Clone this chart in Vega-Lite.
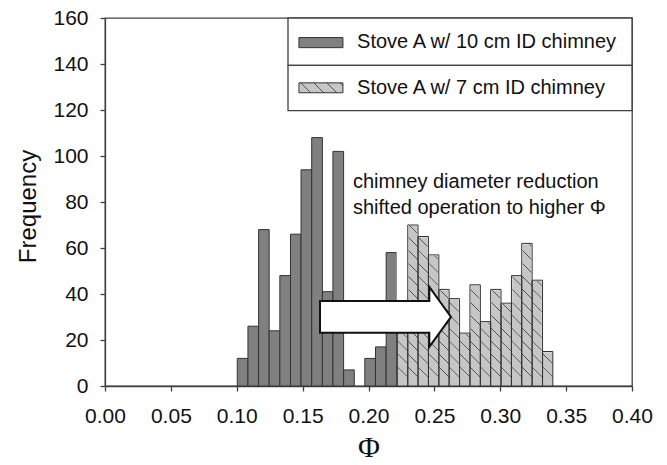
{
  "$schema": "https://vega.github.io/schema/vega-lite/v6.json",
  "width": 527,
  "height": 368,
  "autosize": {"type": "none"},
  "padding": {"left": 105, "top": 18, "right": 35, "bottom": 79},
  "background": "white",
  "config": {
    "view": {"stroke": "#404040", "strokeWidth": 1.3},
    "font": "Liberation Sans",
    "axis": {
      "domainColor": "#404040",
      "domainWidth": 1.3,
      "tickColor": "#404040",
      "tickWidth": 1.3,
      "tickSize": 5,
      "grid": false,
      "labelFont": "Liberation Sans",
      "labelFontSize": 21,
      "labelColor": "#111111",
      "labelFlush": false,
      "labelOverlap": false,
      "titleFontWeight": "normal",
      "titleColor": "#111111"
    }
  },
  "datasets": {
    "d10": [
      {"lo": 0.1004, "hi": 0.1085, "n": 12},
      {"lo": 0.1085, "hi": 0.1166, "n": 26},
      {"lo": 0.1166, "hi": 0.1246, "n": 68},
      {"lo": 0.1246, "hi": 0.1327, "n": 24},
      {"lo": 0.1327, "hi": 0.1408, "n": 48},
      {"lo": 0.1408, "hi": 0.1488, "n": 66},
      {"lo": 0.1488, "hi": 0.1569, "n": 94},
      {"lo": 0.1569, "hi": 0.1650, "n": 108},
      {"lo": 0.1650, "hi": 0.1730, "n": 41},
      {"lo": 0.1730, "hi": 0.1811, "n": 102},
      {"lo": 0.1811, "hi": 0.1892, "n": 7},
      {"lo": 0.1972, "hi": 0.2053, "n": 12},
      {"lo": 0.2053, "hi": 0.2134, "n": 17},
      {"lo": 0.2134, "hi": 0.2214, "n": 58}
    ],
    "d7": [
      {"lo": 0.2219, "hi": 0.2298, "n": 30},
      {"lo": 0.2298, "hi": 0.2376, "n": 70},
      {"lo": 0.2376, "hi": 0.2455, "n": 65},
      {"lo": 0.2455, "hi": 0.2534, "n": 57},
      {"lo": 0.2534, "hi": 0.2612, "n": 42},
      {"lo": 0.2612, "hi": 0.2691, "n": 38},
      {"lo": 0.2691, "hi": 0.2770, "n": 23},
      {"lo": 0.2770, "hi": 0.2849, "n": 44},
      {"lo": 0.2849, "hi": 0.2927, "n": 28},
      {"lo": 0.2927, "hi": 0.3006, "n": 42},
      {"lo": 0.3006, "hi": 0.3085, "n": 36},
      {"lo": 0.3085, "hi": 0.3163, "n": 48},
      {"lo": 0.3163, "hi": 0.3242, "n": 62},
      {"lo": 0.3242, "hi": 0.3321, "n": 46},
      {"lo": 0.3321, "hi": 0.3399, "n": 15}
    ]
  },
  "layer": [
    {
      "data": {"name": "d10"},
      "mark": {"type": "bar", "fill": "#808080", "stroke": "#333333", "strokeWidth": 1},
      "encoding": {
        "x": {
          "field": "lo",
          "type": "quantitative",
          "scale": {"domain": [0, 0.4], "nice": false, "zero": false},
          "axis": {
            "values": [0, 0.05, 0.1, 0.15, 0.2, 0.25, 0.3, 0.35, 0.4],
            "format": ".2f",
            "labelPadding": 14,
            "title": "Φ",
            "titleFont": "Liberation Serif",
            "titleFontSize": 30,
            "titleX": 263.5,
            "titleY": 61,
            "titleBaseline": "middle"
          }
        },
        "x2": {"field": "hi"},
        "y": {
          "field": "n",
          "type": "quantitative",
          "scale": {"domain": [0, 160], "nice": false},
          "axis": {
            "values": [0, 20, 40, 60, 80, 100, 120, 140, 160],
            "labelPadding": 12,
            "title": "Frequency",
            "titleFontSize": 24,
            "titleAngle": -90,
            "titleX": -77,
            "titleY": 188,
            "titleAlign": "center",
            "titleBaseline": "middle"
          }
        },
        "y2": {"datum": 0}
      }
    },
    {
      "data": {"name": "d7"},
      "mark": {
        "type": "bar",
        "strokeWidth": 0,
        "fill": {
          "gradient": "linear",
          "x1": 1, "y1": 0, "x2": 0.94376, "y2": 1,
          "stops": [
            {"offset": 0, "color": "#c6c6c6"},
            {"offset": 0.030, "color": "#c6c6c6"}, {"offset": 0.033, "color": "#505050"}, {"offset": 0.035, "color": "#505050"}, {"offset": 0.038, "color": "#c6c6c6"},
            {"offset": 0.100, "color": "#c6c6c6"}, {"offset": 0.103, "color": "#505050"}, {"offset": 0.105, "color": "#505050"}, {"offset": 0.108, "color": "#c6c6c6"},
            {"offset": 0.171, "color": "#c6c6c6"}, {"offset": 0.174, "color": "#505050"}, {"offset": 0.176, "color": "#505050"}, {"offset": 0.179, "color": "#c6c6c6"},
            {"offset": 0.241, "color": "#c6c6c6"}, {"offset": 0.244, "color": "#505050"}, {"offset": 0.246, "color": "#505050"}, {"offset": 0.249, "color": "#c6c6c6"},
            {"offset": 0.311, "color": "#c6c6c6"}, {"offset": 0.314, "color": "#505050"}, {"offset": 0.316, "color": "#505050"}, {"offset": 0.319, "color": "#c6c6c6"},
            {"offset": 0.382, "color": "#c6c6c6"}, {"offset": 0.385, "color": "#505050"}, {"offset": 0.387, "color": "#505050"}, {"offset": 0.390, "color": "#c6c6c6"},
            {"offset": 0.452, "color": "#c6c6c6"}, {"offset": 0.455, "color": "#505050"}, {"offset": 0.457, "color": "#505050"}, {"offset": 0.460, "color": "#c6c6c6"},
            {"offset": 0.522, "color": "#c6c6c6"}, {"offset": 0.525, "color": "#505050"}, {"offset": 0.527, "color": "#505050"}, {"offset": 0.530, "color": "#c6c6c6"},
            {"offset": 0.593, "color": "#c6c6c6"}, {"offset": 0.596, "color": "#505050"}, {"offset": 0.598, "color": "#505050"}, {"offset": 0.601, "color": "#c6c6c6"},
            {"offset": 0.663, "color": "#c6c6c6"}, {"offset": 0.666, "color": "#505050"}, {"offset": 0.668, "color": "#505050"}, {"offset": 0.671, "color": "#c6c6c6"},
            {"offset": 0.734, "color": "#c6c6c6"}, {"offset": 0.737, "color": "#505050"}, {"offset": 0.739, "color": "#505050"}, {"offset": 0.742, "color": "#c6c6c6"},
            {"offset": 0.804, "color": "#c6c6c6"}, {"offset": 0.807, "color": "#505050"}, {"offset": 0.809, "color": "#505050"}, {"offset": 0.812, "color": "#c6c6c6"},
            {"offset": 0.874, "color": "#c6c6c6"}, {"offset": 0.877, "color": "#505050"}, {"offset": 0.879, "color": "#505050"}, {"offset": 0.882, "color": "#c6c6c6"},
            {"offset": 0.945, "color": "#c6c6c6"}, {"offset": 0.948, "color": "#505050"}, {"offset": 0.950, "color": "#505050"}, {"offset": 0.953, "color": "#c6c6c6"},
            {"offset": 1, "color": "#c6c6c6"}
          ]
        }
      },
      "encoding": {
        "x": {"field": "lo", "type": "quantitative"},
        "x2": {"field": "hi"},
        "y": {"datum": 0},
        "y2": {"datum": 80}
      }
    },
    {
      "data": {"name": "d7"},
      "mark": {"type": "bar", "fill": "white", "stroke": "white", "strokeWidth": 1.5},
      "encoding": {
        "x": {"field": "lo", "type": "quantitative"},
        "x2": {"field": "hi"},
        "y": {"field": "n", "type": "quantitative"},
        "y2": {"datum": 80}
      }
    },
    {
      "data": {"name": "d7"},
      "mark": {"type": "bar", "fill": "transparent", "stroke": "#333333", "strokeWidth": 1},
      "encoding": {
        "x": {"field": "lo", "type": "quantitative"},
        "x2": {"field": "hi"},
        "y": {"field": "n", "type": "quantitative"},
        "y2": {"datum": 0}
      }
    },
    {
      "data": {"values": [{}]},
      "mark": {
        "type": "point",
        "shape": "M-1,-0.241L0.669,-0.241L0.669,-0.458L1,0L0.669,0.458L0.669,0.241L-1,0.241Z",
        "size": 17161,
        "filled": true,
        "fill": "white",
        "stroke": "#111111",
        "strokeWidth": 2,
        "opacity": 1
      },
      "encoding": {
        "x": {"datum": 0.2129},
        "y": {"datum": 30.05}
      }
    },
    {
      "data": {"values": [{}]},
      "mark": {
        "type": "text",
        "text": ["chimney diameter reduction", "shifted operation to higher Φ"],
        "align": "left",
        "baseline": "alphabetic",
        "fontSize": 20,
        "lineHeight": 26,
        "color": "#111111"
      },
      "encoding": {
        "x": {"datum": 0.1882},
        "y": {"datum": 85.9}
      }
    },
    {
      "data": {"values": [{}]},
      "mark": {"type": "rect", "fill": "white", "stroke": "#404040", "strokeWidth": 1.3},
      "encoding": {
        "x": {"datum": 0.1389},
        "x2": {"datum": 0.4},
        "y": {"datum": 160},
        "y2": {"datum": 139.4}
      }
    },
    {
      "data": {"values": [{}]},
      "mark": {"type": "rect", "fill": "white", "stroke": "#404040", "strokeWidth": 1.3},
      "encoding": {
        "x": {"datum": 0.1389},
        "x2": {"datum": 0.4},
        "y": {"datum": 139.4},
        "y2": {"datum": 119.7}
      }
    },
    {
      "data": {"values": [{}]},
      "mark": {"type": "rect", "fill": "#808080", "stroke": "#333333", "strokeWidth": 1},
      "encoding": {
        "x": {"datum": 0.1472},
        "x2": {"datum": 0.1806},
        "y": {"datum": 151.5},
        "y2": {"datum": 147.1}
      }
    },
    {
      "data": {"values": [{}]},
      "mark": {
        "type": "rect",
        "stroke": "#333333",
        "strokeWidth": 1,
        "fill": {
          "gradient": "linear",
          "x1": 1, "y1": 0, "x2": 0, "y2": 0.227,
          "stops": [
            {"offset": 0, "color": "#c6c6c6"},
            {"offset": 0.05, "color": "#c6c6c6"}, {"offset": 0.062, "color": "#505050"}, {"offset": 0.07, "color": "#505050"}, {"offset": 0.082, "color": "#c6c6c6"},
            {"offset": 0.33, "color": "#c6c6c6"}, {"offset": 0.342, "color": "#505050"}, {"offset": 0.35, "color": "#505050"}, {"offset": 0.362, "color": "#c6c6c6"},
            {"offset": 0.61, "color": "#c6c6c6"}, {"offset": 0.622, "color": "#505050"}, {"offset": 0.63, "color": "#505050"}, {"offset": 0.642, "color": "#c6c6c6"},
            {"offset": 0.89, "color": "#c6c6c6"}, {"offset": 0.902, "color": "#505050"}, {"offset": 0.91, "color": "#505050"}, {"offset": 0.922, "color": "#c6c6c6"},
            {"offset": 1, "color": "#c6c6c6"}
          ]
        }
      },
      "encoding": {
        "x": {"datum": 0.1472},
        "x2": {"datum": 0.1806},
        "y": {"datum": 131.8},
        "y2": {"datum": 127.5}
      }
    },
    {
      "data": {"values": [{}]},
      "mark": {"type": "text", "text": "Stove A w/ 10 cm ID chimney", "align": "left", "baseline": "middle", "fontSize": 20, "color": "#111111"},
      "encoding": {
        "x": {"datum": 0.1913},
        "y": {"datum": 149.7}
      }
    },
    {
      "data": {"values": [{}]},
      "mark": {"type": "text", "text": "Stove A w/ 7 cm ID chimney", "align": "left", "baseline": "middle", "fontSize": 20, "color": "#111111"},
      "encoding": {
        "x": {"datum": 0.1913},
        "y": {"datum": 129.5}
      }
    }
  ]
}
